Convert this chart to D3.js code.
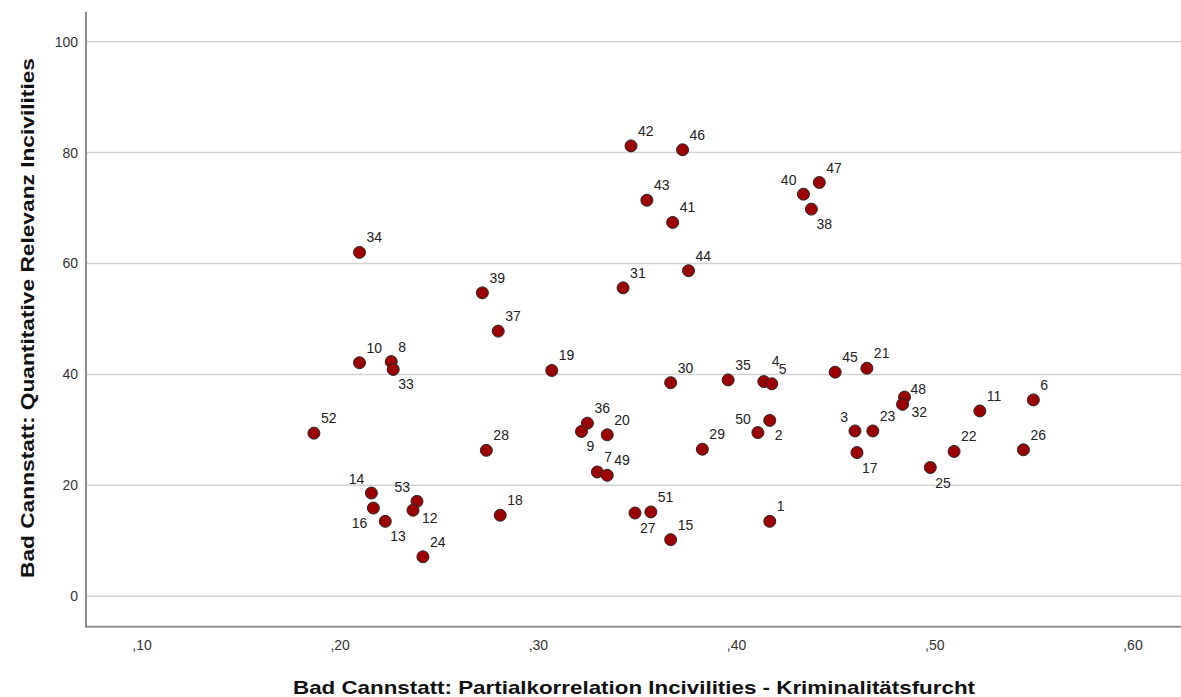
<!DOCTYPE html>
<html>
<head>
<meta charset="utf-8">
<script src="https://cdn.jsdelivr.net/npm/d3@7"></script>
<style>
  html, body { margin: 0; padding: 0; background: #ffffff; }
  svg { display: block; }
  text { font-family: Arial, "Liberation Sans", sans-serif; }
</style>
</head>
<body>
<svg id="chart" width="1181" height="697"></svg>
<script>
// ---- data ----
const ids = [1,2,3,4,5,6,7,8,9,10,11,12,13,14,15,16,17,18,19,20,21,22,23,24,25,26,27,28,29,30,31,32,33,34,35,36,37,38,39,40,41,42,43,44,45,46,47,48,49,50,51,52,53];
const partialCorr = [0.417,0.417,0.460,0.414,0.418,0.550,0.330,0.226,0.322,0.210,0.523,0.237,0.223,0.216,0.367,0.217,0.461,0.281,0.307,0.335,0.466,0.510,0.469,0.242,0.498,0.545,0.349,0.274,0.383,0.367,0.343,0.484,0.227,0.210,0.396,0.325,0.280,0.438,0.272,0.434,0.368,0.347,0.355,0.376,0.450,0.373,0.442,0.485,0.335,0.411,0.357,0.187,0.239];
const relevance = [13.5,31.7,29.8,38.7,38.3,35.4,22.4,42.3,29.7,42.1,33.4,15.5,13.5,18.6,10.2,15.9,25.9,14.6,40.7,29.1,41.1,26.1,29.8,7.1,23.2,26.4,15.0,26.3,26.5,38.5,55.6,34.6,40.9,62.0,39.0,31.2,47.8,69.8,54.7,72.5,67.4,81.2,71.4,58.7,40.4,80.5,74.6,35.9,21.8,29.5,15.2,29.4,17.1];
// label placement relative to the marker: ne, nne, se, sw, nw, e, ene
const labelSide = ["ne","se","nw","nne","ne","ne","ne","ne","se","ne","ne","e","se","nw","ne","sw","se","ne","ne","ne","ne","ne","ne","ne","se","ne","se","ne","ne","ne","ne","e","se","ne","ne","ne","ne","se","ne","nw","ne","ne","ne","ne","ne","ne","ne","ene","ne","nw","ne","ne","nw"];
const xTicks = [0.10,0.20,0.30,0.40,0.50,0.60];
const xTickLabels = [",10",",20",",30",",40",",50",",60"];
const yTicks = [0,20,40,60,80,100];
const yTickLabels = ["0","20","40","60","80","100"];
const xTitle = "Bad Cannstatt: Partialkorrelation Incivilities - Kriminalitätsfurcht";
const yTitle = "Bad Cannstatt: Quantitative Relevanz Incivilities";

// ---- layout ----
const W = 1181, H = 697;
const plot = { left: 86, right: 1181, top: 11.7, bottom: 626.7 };
const svg = d3.select("#chart");

const x = d3.scaleLinear().domain([0.072, 0.6245]).range([plot.left, plot.right]);
const y = d3.scaleLinear().domain([-5.5, 105.4]).range([plot.bottom, plot.top]);

// gridlines
svg.append("g").selectAll("line").data(yTicks).join("line")
  .attr("x1", plot.left).attr("x2", plot.right)
  .attr("y1", d => y(d)).attr("y2", d => y(d))
  .attr("stroke", "#d2d2d2").attr("stroke-width", 1.5);

// axes
const xAxis = d3.axisBottom(x).tickValues(xTicks).tickSize(0).tickPadding(13)
  .tickFormat((d, i) => xTickLabels[i]);
const gx = svg.append("g").attr("transform", `translate(0,${plot.bottom})`).call(xAxis);
gx.select(".domain").remove();
gx.selectAll("text").attr("font-size", 14).attr("fill", "#333");

const yAxis = d3.axisLeft(y).tickValues(yTicks).tickSize(0).tickPadding(8)
  .tickFormat((d, i) => yTickLabels[i]);
const gy = svg.append("g").attr("transform", `translate(${plot.left},0)`).call(yAxis);
gy.select(".domain").remove();
gy.selectAll("text").attr("font-size", 14).attr("fill", "#333");

// axis lines
svg.append("line").attr("x1", plot.left).attr("x2", plot.left)
  .attr("y1", plot.top).attr("y2", plot.bottom)
  .attr("stroke", "#8e8e8e").attr("stroke-width", 2);
svg.append("line").attr("x1", plot.left - 1).attr("x2", plot.right)
  .attr("y1", plot.bottom).attr("y2", plot.bottom)
  .attr("stroke", "#8e8e8e").attr("stroke-width", 2);

// points (higher values drawn first)
const data = ids.map((id, i) => ({ id, xv: partialCorr[i], yv: relevance[i], side: labelSide[i] }));
const order = data.slice().sort((a, b) => b.yv - a.yv);

svg.append("g").selectAll("circle").data(order).join("circle")
  .attr("cx", d => x(d.xv)).attr("cy", d => y(d.yv)).attr("r", 6)
  .attr("fill", "#9c0000").attr("stroke", "#2a2a2a").attr("stroke-width", 1);

const off = {
  ne:  { dx: 7,  dy: -10, anchor: "start" },
  nne: { dx: 8,  dy: -16, anchor: "start" },
  se:  { dx: 5,  dy: 20,  anchor: "start" },
  sw:  { dx: -6, dy: 20,  anchor: "end" },
  nw:  { dx: -7, dy: -9,  anchor: "end" },
  e:   { dx: 9,  dy: 13,  anchor: "start" },
  ene: { dx: 6,  dy: -3,  anchor: "start" }
};
svg.append("g").selectAll("text").data(data).join("text")
  .attr("x", d => x(d.xv) + off[d.side].dx)
  .attr("y", d => y(d.yv) + off[d.side].dy)
  .attr("text-anchor", d => off[d.side].anchor)
  .attr("font-size", 14).attr("fill", "#222")
  .text(d => d.id);

// titles
svg.append("text").attr("x", 634).attr("y", 694)
  .attr("text-anchor", "middle").attr("font-size", 19).attr("font-weight", "bold")
  .attr("textLength", 682).attr("lengthAdjust", "spacingAndGlyphs")
  .attr("fill", "#111").text(xTitle);
svg.append("text").attr("transform", "translate(34,318) rotate(-90)")
  .attr("text-anchor", "middle").attr("font-size", 19).attr("font-weight", "bold")
  .attr("textLength", 520).attr("lengthAdjust", "spacingAndGlyphs")
  .attr("fill", "#111").text(yTitle);
</script>
</body>
</html>
